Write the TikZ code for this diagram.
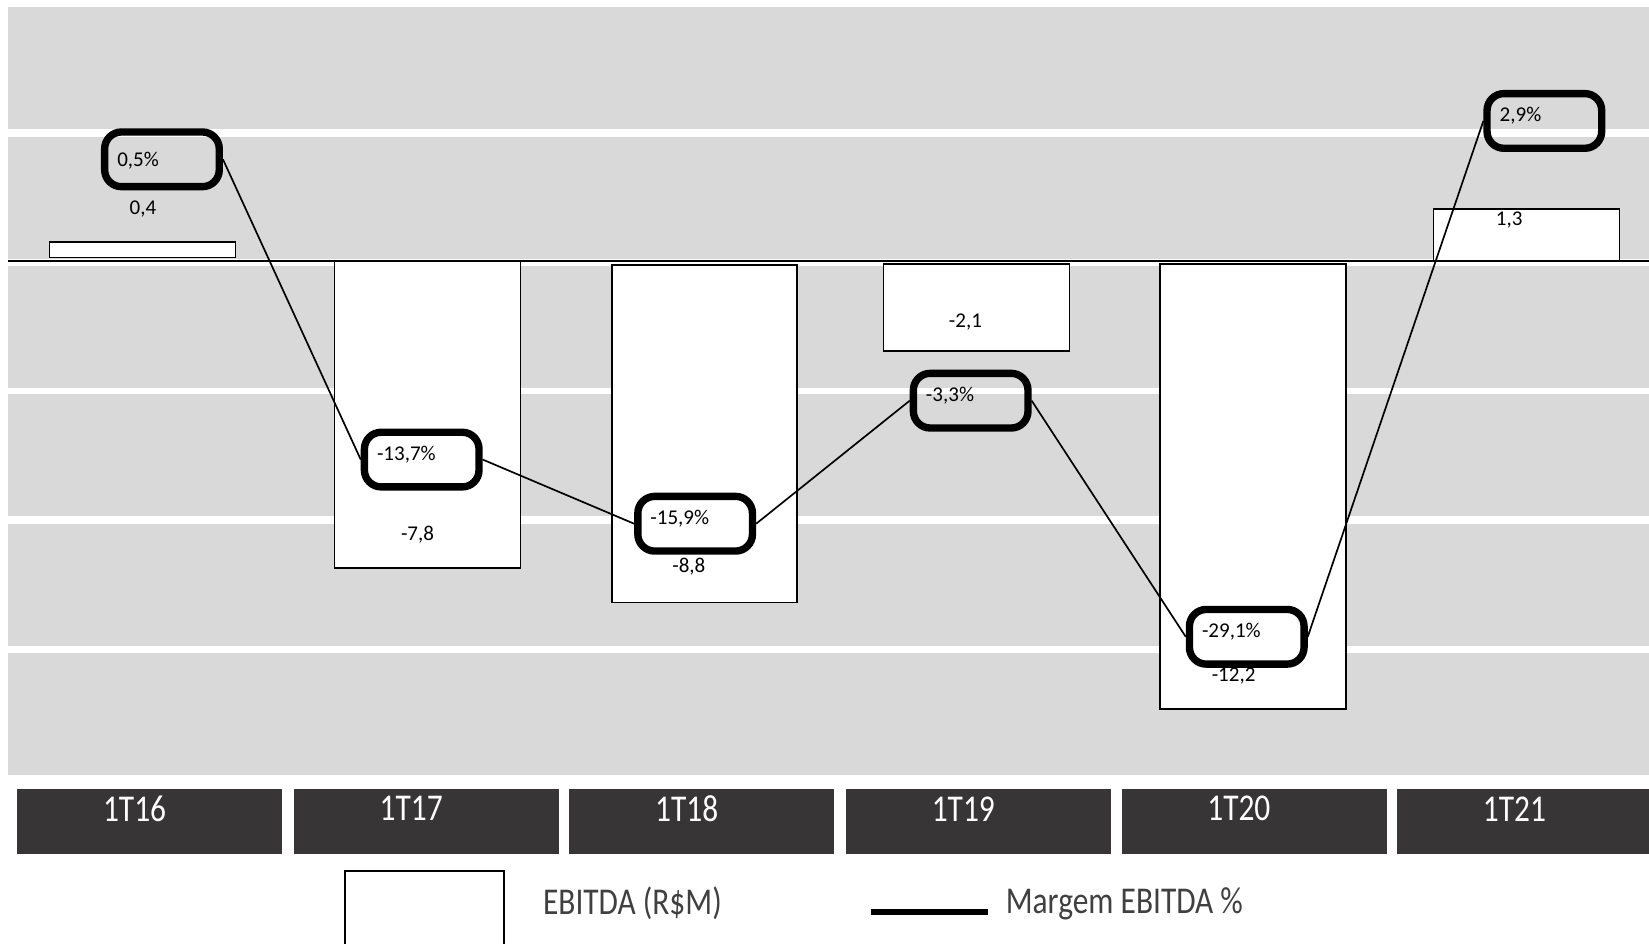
\documentclass[tikz,border=0pt]{standalone}
\usepackage{fontspec}
\setmainfont{Carlito}
\newfontfamily\narrowfont[FakeStretch=0.83]{Carlito}
\usepackage{tikz}
\usetikzlibrary{calc}

\definecolor{bandgray}{RGB}{217,217,217}
\definecolor{catgray}{RGB}{56,53,54}
\definecolor{legendtext}{RGB}{64,64,64}

\tikzset{
  bar/.style={draw=black, fill=white, line width=0.8pt},
  mbox/.style={draw=black, line width=3.5pt, rounded corners=8pt,
    text width=42.5pt, align=left, inner xsep=6pt, minimum height=26pt,
    text height=6.5pt, text depth=6pt, font=\fontsize{10}{12}\selectfont},
  vlabel/.style={font=\fontsize{10}{12}\selectfont},
  mline/.style={draw=black, line width=0.8pt},
  catbox/.style={fill=catgray, minimum width=126pt, minimum height=31pt,
    inner sep=0pt, anchor=north west},
  cattext/.style={text=white, font=\narrowfont\fontsize{18}{20}\selectfont},
  legtext/.style={text=legendtext, inner sep=0pt, anchor=west,
    font=\narrowfont\fontsize{18}{20}\selectfont}
}

\begin{document}
\begin{tikzpicture}[x=0.5pt, y=-0.5pt]
    \useasboundingbox (0,0) rectangle (1568,897);
    \clip (0,0) rectangle (1568,897);

    % background bands
    \foreach \y in {7,130,253,375,498,621}
        \fill[bandgray] (8,\y) rectangle (1568,\y+116);
    \draw[line width=0.8pt] (8,248) -- (1568,248);

    % EBITDA bars
    \draw[bar] (47,230) rectangle (224,245);
    \draw[bar] (318,248) rectangle (495,540);
    \draw[bar] (582,252) rectangle (758,573);
    \draw[bar] (840,251) rectangle (1017,334);
    \draw[bar] (1103,251) rectangle (1280,674);
    \draw[bar] (1363,199) rectangle (1540,248);

    \node[vlabel] (v16) at (136,199) {0,4};
    \node[vlabel] (v17) at (397,508) {-7,8};
    \node[vlabel] (v18) at (655,539) {-8,8};
    \node[vlabel] (v19) at (918,306) {-2,1};
    \node[vlabel] (v20) at (1173,643) {-12,2};
    \node[vlabel] (v21) at (1435,209) {1,3};

    % margem
    \node[mbox, text depth=0pt] (m16) at (154,151.5) {0,5\%};
    \node[mbox] (m17) at (401,437) {-13,7\%};
    \node[mbox] (m18) at (661,498) {-15,9\%};
    \node[mbox] (m19) at (923,381) {-3,3\%};
    \node[mbox] (m20) at (1185.5,605.5) {-29,1\%};
    \node[mbox] (m21) at (1468.5,115) {2,9\%};

    \draw[mline] (m16.east) -- (m17.west)
                 (m17.east) -- (m18.west)
                 (m18.east) -- (m19.west)
                 (m19.east) -- (m20.west)
                 (m20.east) -- (m21.west);

    % categories
    \node[catbox] (c16) at (16,750) {};
    \node[catbox] (c17) at (279,750) {};
    \node[catbox] (c18) at (541,750) {};
    \node[catbox] (c19) at (804,750) {};
    \node[catbox] (c20) at (1066,750) {};
    \node[catbox] (c21) at (1328,750) {};
    \node[cattext] (t16) at ([shift={(112,19)}]c16.north west) {1T16};
    \node[cattext] (t17) at ([shift={(112,19)}]c17.north west) {1T17};
    \node[cattext] (t18) at ([shift={(112,19)}]c18.north west) {1T18};
    \node[cattext] (t19) at ([shift={(112,19)}]c19.north west) {1T19};
    \node[cattext] (t20) at ([shift={(112,19)}]c20.north west) {1T20};
    \node[cattext] (t21) at ([shift={(112,19)}]c21.north west) {1T21};

    % legend
    \draw[line width=0.8pt] (328,828) rectangle (479,910);
    \node[legtext] (l1) at (516,859) {EBITDA (R\$M)};
    \draw[line width=3pt] (828,867) -- (939,867);
    \node[legtext] (l2) at (956,859) {Margem EBITDA \%};
\end{tikzpicture}
\end{document}
